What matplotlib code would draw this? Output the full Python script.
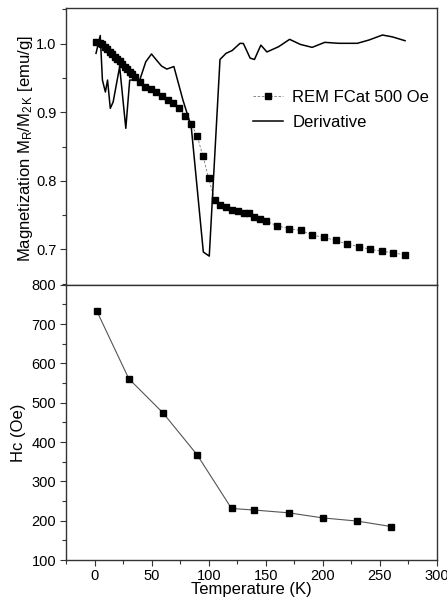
import matplotlib
matplotlib.use("Agg")
import matplotlib.pyplot as plt
from matplotlib.ticker import MultipleLocator

plt.rcParams['font.family'] = ['Liberation Sans', 'DejaVu Sans']
plt.rcParams['mathtext.fontset'] = 'custom'
plt.rcParams['mathtext.rm'] = 'Liberation Sans'
plt.rcParams['mathtext.it'] = 'Liberation Sans:italic'

# --- Top panel: remanent magnetization (field cooled at 500 Oe) ---
rem_T = [1.5, 4.4, 6.4, 8.8, 10.8, 13.2, 15.2, 17.6, 19.6, 22.0, 24.0, 26.4, 28.4,
         30.8, 32.8, 35.2, 39.6, 44.6, 49.3, 54.2, 59.5, 64.5, 68.9, 73.9, 79.4,
         84.7, 90.0, 95.0, 100.0, 105.2, 110.2, 115.5, 120.5, 125.5, 130.5, 135.5,
         139.9, 144.9, 150.1, 160.0, 170.4, 180.6, 190.9, 200.9, 211.1, 221.4,
         231.3, 241.6, 251.8, 261.8, 272.0]
rem_M = [1.002, 1.0015, 1.000, 0.9956, 0.9918, 0.9883, 0.9845, 0.980, 0.977, 0.9747,
         0.971, 0.9664, 0.9626, 0.9587, 0.9558, 0.9518, 0.9436, 0.9363, 0.934,
         0.9295, 0.924, 0.9178, 0.913, 0.906, 0.8945, 0.8828, 0.8648, 0.8356,
         0.8035, 0.7723, 0.765, 0.762, 0.7572, 0.7558, 0.7533, 0.7524, 0.747,
         0.744, 0.7412, 0.7343, 0.730, 0.7276, 0.7207, 0.7174, 0.713, 0.7078,
         0.7038, 0.700, 0.697, 0.695, 0.6915]

der_T = [1.3, 5.0, 6.9, 9.5, 11.4, 13.8, 16.3, 22.0, 27.4, 30.8, 39.6, 44.9, 49.9,
         54.3, 58.7, 63.3, 69.5, 77.4, 84.7, 95.3, 100.5, 109.9, 115.2, 120.5,
         127.5, 130.4, 136.3, 140.1, 145.7, 151.0, 161.2, 170.9, 180.3, 190.6,
         201.7, 214.0, 230.2, 240.4, 252.2, 260.9, 272.0]
der_M = [0.986, 1.012, 0.947, 0.9295, 0.947, 0.9057, 0.915, 0.9664, 0.8765, 0.947,
         0.947, 0.9737, 0.985, 0.976, 0.9674, 0.963, 0.9667, 0.918, 0.879, 0.696,
         0.690, 0.977, 0.986, 0.990, 1.0006, 1.0003, 0.979, 0.977, 0.998, 0.988,
         0.9956, 1.0064, 0.999, 0.9947, 1.002, 1.0006, 1.0006, 1.0054, 1.0127,
         1.010, 1.0044]

# --- Bottom panel: coercivity ---
hc_T = [2, 30, 60, 90, 120, 140, 170, 200, 230, 260]
hc_val = [733, 561, 474, 367, 231, 227, 220, 207, 199, 185]

legend_labels = ["REM FCat 500 Oe", "Derivative"]

W, H = 447, 601
fig = plt.figure(figsize=(W / 100, H / 100), dpi=100)
L, R = 66, 437
top_t, mid, bot_b = 8.3, 284.7, 560
ax1 = fig.add_axes([L / W, 1 - mid / H, (R - L) / W, (mid - top_t) / H])
ax2 = fig.add_axes([L / W, 1 - bot_b / H, (R - L) / W, (bot_b - mid) / H])

spine_col = '#333333'
for ax in (ax1, ax2):
    for s in ax.spines.values():
        s.set_color(spine_col)
        s.set_linewidth(1.0)
    ax.set_xlim(-25, 300)

# top panel
ax1.plot(rem_T, rem_M, color='#777777', lw=0.6, ls=(0, (3, 2)), marker='s',
         markersize=4.1, markerfacecolor='black', markeredgecolor='black',
         label=legend_labels[0])
ax1.plot(der_T, der_M, color='black', lw=1.1, label=legend_labels[1])
ax1.set_ylim(0.6483, 1.0517)
ax1.yaxis.set_major_locator(MultipleLocator(0.1))
ax1.yaxis.set_minor_locator(MultipleLocator(0.05))
ax1.set_yticks([0.7, 0.8, 0.9, 1.0])
ax1.set_yticklabels(['0.7', '0.8', '0.9', '1.0'])
ax1.tick_params(axis='y', which='major', direction='out', length=4, width=0.8,
                labelsize=10.5, pad=3, color=spine_col)
ax1.tick_params(axis='y', which='minor', direction='out', length=3, width=0.8,
                color=spine_col)
ax1.tick_params(axis='x', which='both', bottom=False, labelbottom=False)
ax1.set_ylabel(r"Magnetization M$_\mathrm{R}$/M$_\mathrm{2\,K}$ [emu/g]", fontsize=12)
ax1.yaxis.set_label_coords(-0.083, 0.493)
ax1.legend(loc='upper left', bbox_to_anchor=(0.504, 0.705), frameon=False,
           fontsize=12, borderpad=0, borderaxespad=0, handlelength=1.8,
           handletextpad=0.55, labelspacing=0.6)

# bottom panel
ax2.plot(hc_T, hc_val, color='#555555', lw=0.8, marker='s', markersize=4.3,
         markerfacecolor='black', markeredgecolor='black')
ax2.set_ylim(100, 800)
ax2.xaxis.set_major_locator(MultipleLocator(50))
ax2.xaxis.set_minor_locator(MultipleLocator(25))
ax2.yaxis.set_major_locator(MultipleLocator(100))
ax2.yaxis.set_minor_locator(MultipleLocator(50))
ax2.tick_params(which='major', direction='out', length=4, width=0.8,
                labelsize=10.5, color=spine_col)
ax2.tick_params(which='minor', direction='out', length=3, width=0.8, color=spine_col)
ax2.tick_params(axis='x', pad=2.5)
ax2.tick_params(axis='y', pad=3)
ax2.set_ylabel("Hc (Oe)", fontsize=12)
ax2.yaxis.set_label_coords(-0.108, 0.461)
ax2.set_xlabel("Temperature (K)", fontsize=12)
ax2.xaxis.set_label_coords(0.5, -0.08)

fig.savefig("out.png", dpi=100)
